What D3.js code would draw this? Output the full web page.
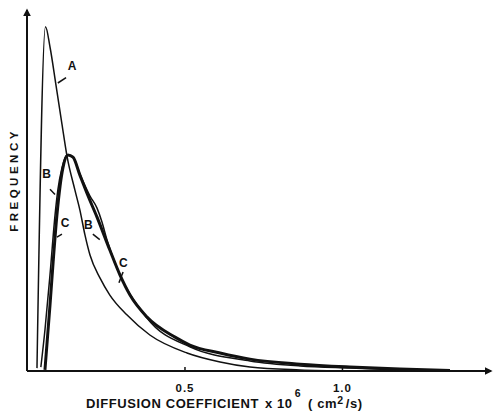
<!DOCTYPE html>
<html>
    <head>
        <meta charset="utf-8">
        <script src="https://d3js.org/d3.v7.min.js"></script>
        <style>
            body { margin: 0; background: #fff; }
            text { font-family: "Liberation Sans", Arial, sans-serif; font-weight: bold; fill: #111; }
        </style>
    </head>
    <body>
        <script>
            var w = 493;
            var h = 416;

            // curve A
            var diffA = [0.0317, 0.0587, 0.073, 0.092, 0.111, 0.127, 0.152, 0.168, 0.184, 0.2, 0.232, 0.263, 0.317, 0.39, 0.508, 0.613, 0.708, 0.867, 1.025];
            var freqA = [0.8, 95.6, 90, 79.4, 68.6, 59.7, 50.3, 44.7, 37.8, 32.2, 25.8, 21.1, 15.6, 10, 5, 2.5, 1.1, 0.3, 0];
            // curve B
            var diffB = [0.044, 0.057, 0.073, 0.089, 0.098, 0.111, 0.127, 0.146, 0.168, 0.2, 0.222, 0.238, 0.254, 0.27, 0.381, 0.517, 0.708, 0.867, 1.025, 1.184];
            var freqB = [1.1, 11.4, 26.7, 43.3, 50.3, 56.4, 60, 59.4, 54.7, 48.6, 45.3, 41.4, 36.4, 32.2, 14.7, 6.7, 2.8, 1.4, 0.8, 0.3];
            // curve C
            var diffC = [0.057, 0.073, 0.083, 0.095, 0.105, 0.114, 0.130, 0.146, 0.168, 0.194, 0.222, 0.263, 0.295, 0.327, 0.381, 0.47, 0.517, 0.613, 0.708, 0.867, 1.025, 1.184, 1.343];
            var freqC = [0.3, 18.3, 30.3, 43.3, 51.4, 56.4, 60, 59.4, 54.4, 48.6, 42.8, 33.6, 26.7, 21.1, 15, 9.4, 7.2, 5, 3.3, 1.9, 1.1, 0.55, 0.15];

            var xTicks = [0.5, 1.0];

            // curve labels: text, position, leader line (data units)
            var labelText = ["A", "B", "C", "B", "C"];
            var labelX = [0.143, 0.062, 0.121, 0.195, 0.306];
            var labelY = [83.5, 53.5, 40, 39.5, 29];
            var leaderX = [[0.098, 0.124], [0.073, 0.089], [0.111, 0.095], [0.209, 0.231], [0.305, 0.292]];
            var leaderY = [[80, 81.5], [50.5, 49], [38, 37.2], [38, 36.5], [27.5, 24.5]];

            var x = d3.scaleLinear().domain([0, 1.47]).range([27, 490]);
            var y = d3.scaleLinear().domain([0, 100]).range([371, 11]);

            var svg = d3.select("body").append("svg")
                .attr("width", w)
                .attr("height", h);

            var defs = svg.append("defs");
            defs.append("marker")
                .attr("id", "arrow")
                .attr("viewBox", "0 0 10 10")
                .attr("refX", 8).attr("refY", 5)
                .attr("markerWidth", 4).attr("markerHeight", 4)
                .attr("orient", "auto")
                .append("path")
                    .attr("d", "M0,0 L10,5 L0,10 z")
                    .style("fill", "#111");

            // axes lines with arrows
            svg.append("line")
                .attr("x1", x(0)).attr("y1", y(0))
                .attr("x2", x(0)).attr("y2", 10)
                .style("stroke", "#111").style("stroke-width", 2)
                .attr("marker-end", "url(#arrow)");

            svg.append("line")
                .attr("x1", x(0)).attr("y1", y(0))
                .attr("x2", 491).attr("y2", y(0))
                .style("stroke", "#111").style("stroke-width", 2)
                .attr("marker-end", "url(#arrow)");

            var xAxis = d3.axisBottom(x)
                .tickValues(xTicks)
                .tickFormat(d3.format(".1f"))
                .tickSizeInner(-4)
                .tickSizeOuter(0)
                .tickPadding(13);

            var gx = svg.append("g")
                .attr("transform", "translate(0," + y(0) + ")")
                .call(xAxis);
            gx.select(".domain").remove();
            gx.selectAll(".tick line").style("stroke", "#111").style("stroke-width", 1.5);
            gx.selectAll(".tick text")
                .attr("font-family", null)
                .attr("font-size", null)
                .style("font-size", "11.5px")
                .style("letter-spacing", "1px")
                .style("fill", "#111");

            var line = d3.line()
                .x(function(d) { return x(d[0]); })
                .y(function(d) { return y(d[1]); })
                .curve(d3.curveMonotoneX);

            function pairs(xs, ys) {
                return xs.map(function(d, i) { return [d, ys[i]]; });
            }

            svg.append("path")
                .attr("d", line(pairs(diffA, freqA)))
                .style("fill", "none").style("stroke", "#111").style("stroke-width", 1.5);
            svg.append("path")
                .attr("d", line(pairs(diffB, freqB)))
                .style("fill", "none").style("stroke", "#111").style("stroke-width", 1.5);
            svg.append("path")
                .attr("d", line(pairs(diffC, freqC)))
                .style("fill", "none").style("stroke", "#111").style("stroke-width", 3);

            // labels
            svg.selectAll(".lab")
                .data(labelText)
                .enter()
                .append("text")
                .attr("class", "lab")
                .text(function(d) { return d; })
                .attr("text-anchor", "middle")
                .attr("x", function(d, i) { return x(labelX[i]); })
                .attr("y", function(d, i) { return y(labelY[i]); })
                .style("font-size", "12px");

            svg.selectAll(".leader")
                .data(labelText)
                .enter()
                .append("line")
                .attr("class", "leader")
                .attr("x1", function(d, i) { return x(leaderX[i][0]); })
                .attr("y1", function(d, i) { return y(leaderY[i][0]); })
                .attr("x2", function(d, i) { return x(leaderX[i][1]); })
                .attr("y2", function(d, i) { return y(leaderY[i][1]); })
                .style("stroke", "#111").style("stroke-width", 1.5);

            // axis titles
            var title = svg.append("text")
                .attr("x", 86)
                .attr("y", 408)
                .style("font-size", "13px")
                .style("letter-spacing", "0.6px");
            title.append("tspan").text("DIFFUSION COEFFICIENT");
            title.append("tspan").attr("dx", 6).text("x 10");
            title.append("tspan").attr("dx", 2).attr("dy", -11).style("font-size", "10.5px").text("6");
            title.append("tspan").attr("dx", 7).attr("dy", 11).text("( cm");
            title.append("tspan").attr("dy", -4).style("font-size", "10.5px").text("2");
            title.append("tspan").attr("dx", 2).attr("dy", 4).text("/s)");

            svg.append("text")
                .attr("transform", "translate(18,180) rotate(-90)")
                .attr("text-anchor", "middle")
                .style("font-size", "11.5px")
                .style("letter-spacing", "3.5px")
                .text("FREQUENCY");
        </script>
    </body>
</html>
